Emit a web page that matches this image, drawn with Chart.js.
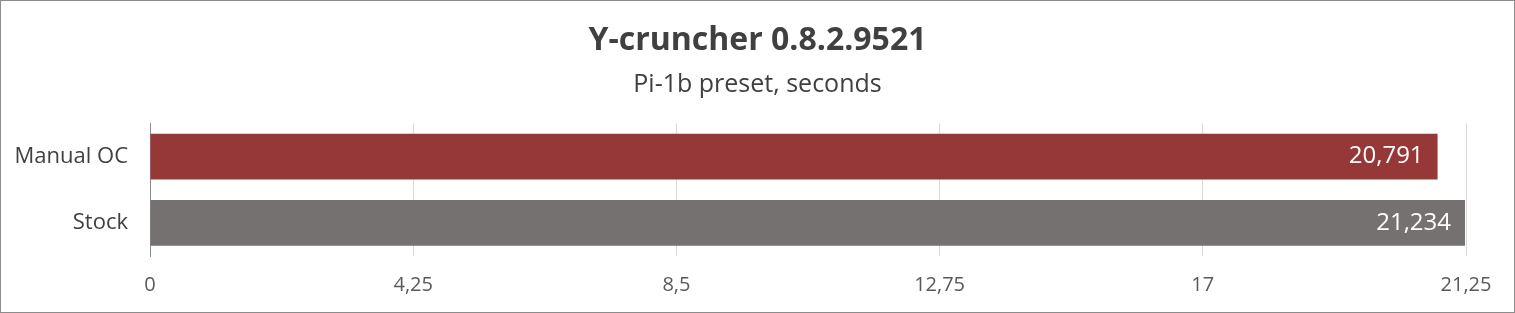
<!DOCTYPE html>
<html lang="en">
<head>
  <meta charset="utf-8"/>
  <title>Y-cruncher 0.8.2.9521</title>
  <script src="https://cdn.jsdelivr.net/npm/chart.js"></script>
  <style>
    html, body { margin: 0; padding: 0; background: #fff; }
    .frame {
      width: 1515px; height: 313px; box-sizing: border-box;
      border: 1px solid #8c8c8c; background: #fff;
    }
  </style>
</head>
<body>
  <div class="frame">
    <canvas id="chart"></canvas>
  </div>

<script>
  // data
  const categories = ['Manual OC', 'Stock'];
  const seconds = [20.791, 21.234];
  const barColors = ['#963838', '#767171'];
  const axisMin = 0;
  const axisMax = 21.25;
  const axisStep = 4.25;

  const FONT = "'Open Sans', Lato, sans-serif";
  const comma = v => String(v).replace('.', ',');

  // white value labels inside the end of each bar
  const valueLabels = {
    id: 'valueLabels',
    afterDatasetsDraw(chart) {
      const ctx = chart.ctx;
      const meta = chart.getDatasetMeta(0);
      ctx.save();
      ctx.font = '24px ' + FONT;
      ctx.fillStyle = '#ffffff';
      ctx.textAlign = 'right';
      ctx.textBaseline = 'middle';
      meta.data.forEach((bar, i) => {
        ctx.fillText(comma(seconds[i]), bar.x - 14, bar.y);
      });
      ctx.restore();
    }
  };

  new Chart(document.getElementById('chart'), {
    type: 'bar',
    data: {
      labels: categories,
      datasets: [{
        data: seconds,
        backgroundColor: barColors,
        categoryPercentage: 1,
        barPercentage: 0.69
      }]
    },
    options: {
      indexAxis: 'y',
      responsive: true,
      maintainAspectRatio: false,
      animation: false,
      scales: {
        x: {
          min: axisMin,
          max: axisMax,
          grid: { color: '#d9d9d9', drawTicks: false },
          border: { display: false },
          ticks: {
            stepSize: axisStep,
            padding: 17,
            color: '#595959',
            font: { family: FONT, size: 20 },
            callback: v => comma(v)
          },
          afterFit: s => { s.height = 56; }
        },
        y: {
          grid: { display: false, drawTicks: false },
          border: { display: true, color: '#8c8c8c', width: 1 },
          ticks: {
            padding: 22,
            color: '#404040',
            font: { family: FONT, size: 22 }
          },
          afterFit: s => { s.width = 149; }
        },
        // empty right-hand spacer so the plot ends where the reference does
        spacer: {
          type: 'category',
          axis: 'y',
          position: 'right',
          grid: { display: false, drawTicks: false },
          border: { display: false },
          ticks: { display: false },
          afterFit: s => { s.width = 48; }
        }
      },
      plugins: {
        legend: { display: false },
        tooltip: { enabled: false },
        title: {
          display: true,
          text: 'Y-cruncher 0.8.2.9521',
          color: '#404040',
          font: { family: FONT, size: 32, weight: 'bold' },
          padding: { top: 21, bottom: 9 }
        },
        subtitle: {
          display: true,
          text: 'Pi-1b preset, seconds',
          color: '#404040',
          font: { family: FONT, size: 25 },
          padding: { top: 0, bottom: 24 }
        }
      }
    },
    plugins: [valueLabels]
  });
</script>
</body>
</html>
